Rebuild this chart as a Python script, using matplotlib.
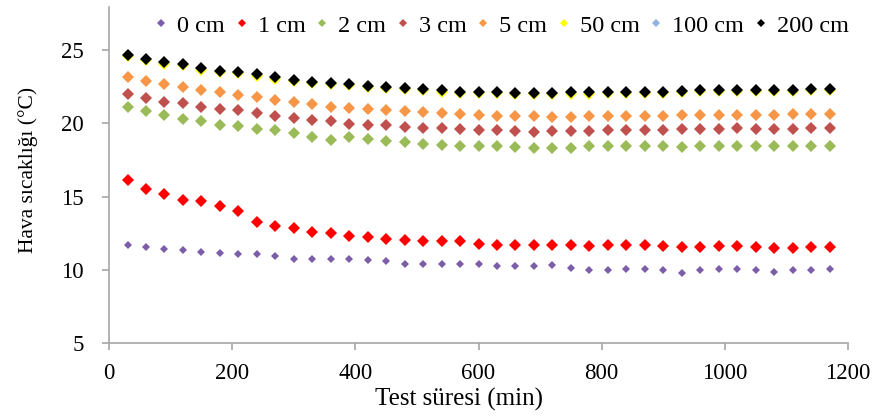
import matplotlib.pyplot as plt
from matplotlib.lines import Line2D

# Test time (min)
times = list(range(30, 1200, 30))

depths = ['0 cm', '1 cm', '2 cm', '3 cm', '5 cm', '50 cm', '100 cm', '200 cm']

t_0cm = [11.73, 11.58, 11.44, 11.35, 11.24, 11.17, 11.10, 11.10, 10.94, 10.78,
         10.78, 10.78, 10.78, 10.67, 10.60, 10.44, 10.44, 10.44, 10.44, 10.44,
         10.31, 10.31, 10.31, 10.37, 10.15, 9.99, 9.99, 10.08, 10.08, 9.99,
         9.81, 9.99, 10.08, 10.08, 9.99, 9.85, 9.99, 9.99, 10.08]
t_1cm = [16.15, 15.55, 15.15, 14.80, 14.70, 14.35, 14.05, 13.25, 13.00, 12.85,
         12.60, 12.50, 12.30, 12.25, 12.15, 12.05, 11.95, 11.95, 11.95, 11.80,
         11.73, 11.73, 11.73, 11.73, 11.73, 11.67, 11.73, 11.73, 11.73, 11.67,
         11.58, 11.58, 11.67, 11.67, 11.58, 11.50, 11.50, 11.58, 11.58]
t_2cm = [21.14, 20.85, 20.58, 20.31, 20.17, 19.90, 19.78, 19.60, 19.56, 19.33,
         19.06, 18.88, 19.06, 18.95, 18.81, 18.69, 18.60, 18.54, 18.47, 18.47,
         18.42, 18.38, 18.31, 18.31, 18.31, 18.42, 18.42, 18.42, 18.47, 18.42,
         18.38, 18.47, 18.47, 18.47, 18.47, 18.47, 18.47, 18.47, 18.47]
t_3cm = [22.01, 21.71, 21.48, 21.37, 21.14, 20.97, 20.87, 20.73, 20.51, 20.35,
         20.24, 20.17, 19.97, 19.88, 19.85, 19.74, 19.67, 19.67, 19.60, 19.56,
         19.51, 19.44, 19.37, 19.44, 19.44, 19.44, 19.51, 19.51, 19.51, 19.51,
         19.60, 19.60, 19.60, 19.67, 19.60, 19.60, 19.60, 19.67, 19.67]
t_5cm = [23.18, 22.89, 22.69, 22.44, 22.23, 22.12, 21.94, 21.82, 21.60, 21.48,
         21.31, 21.14, 21.07, 20.99, 20.87, 20.80, 20.76, 20.69, 20.65, 20.58,
         20.51, 20.51, 20.47, 20.42, 20.42, 20.47, 20.51, 20.51, 20.51, 20.51,
         20.58, 20.58, 20.58, 20.58, 20.58, 20.58, 20.62, 20.65, 20.65]
t_50cm = [24.58, 24.32, 24.06, 23.95, 23.65, 23.52, 23.40, 23.22, 23.04, 22.88,
          22.76, 22.65, 22.58, 22.47, 22.38, 22.31, 22.24, 22.15, 22.08, 22.04,
          22.04, 21.97, 21.97, 21.97, 22.02, 22.02, 22.08, 22.08, 22.08, 22.08,
          22.13, 22.20, 22.20, 22.20, 22.20, 22.20, 22.20, 22.24, 22.24]
t_100cm = [24.66, 24.39, 24.16, 24.05, 23.73, 23.59, 23.48, 23.32, 23.12, 22.96,
           22.84, 22.73, 22.67, 22.55, 22.46, 22.39, 22.32, 22.23, 22.16, 22.12,
           22.12, 22.05, 22.05, 22.05, 22.10, 22.10, 22.16, 22.16, 22.16, 22.16,
           22.21, 22.28, 22.28, 22.28, 22.28, 22.28, 22.28, 22.32, 22.32]
t_200cm = [24.66, 24.39, 24.16, 24.05, 23.73, 23.59, 23.48, 23.32, 23.12, 22.96,
           22.84, 22.73, 22.67, 22.55, 22.46, 22.39, 22.32, 22.23, 22.16, 22.12,
           22.12, 22.05, 22.05, 22.05, 22.10, 22.10, 22.16, 22.16, 22.16, 22.16,
           22.21, 22.28, 22.28, 22.28, 22.28, 22.28, 22.28, 22.32, 22.32]

series = [t_0cm, t_1cm, t_2cm, t_3cm, t_5cm, t_50cm, t_100cm, t_200cm]
colors = ['#7B5EA7', '#FF0000', '#9BBB59', '#C0504D', '#F79646',
          '#FFFF00', '#8EB4E3', '#000000']
sizes = [3.8, 6.2, 5.9, 5.9, 5.9, 5.8, 5.6, 6.1]

plt.rcParams['font.family'] = ['Liberation Serif', 'DejaVu Serif']

fig = plt.figure(figsize=(8.75, 4.16), dpi=100)
ax = fig.add_axes([0.1246, 0.1743, 0.8446, 0.809])

for label, vals, c, ms in zip(depths, series, colors, sizes):
    ax.plot(times, vals, linestyle='none', marker='D', markersize=ms,
            color=c, markeredgewidth=0, label=label)

ax.set_xlim(0, 1200)
ax.set_ylim(5, 27.92)
ax.set_xticks(range(0, 1201, 200))
ax.set_yticks([5, 10, 15, 20, 25])

for side in ['top', 'right']:
    ax.spines[side].set_visible(False)
for side in ['left', 'bottom']:
    ax.spines[side].set_color('#A6A6A6')
    ax.spines[side].set_linewidth(1.2)
ax.tick_params(colors='#A6A6A6', labelcolor='black', labelsize=16.5,
               length=5, width=1.2, direction='out')
ax.tick_params(axis='x', pad=9)
ax.tick_params(axis='y', pad=13)

ax.set_xlabel('Test süresi (min)', fontsize=18, va='center')
ax.xaxis.set_label_coords(0.473, -0.165)
ax.set_ylabel('Hava sıcaklığı (°C)', fontsize=15.5, va='center')
ax.yaxis.set_label_coords(-0.11, 0.516)

# legend with equal-sized diamonds
handles = [Line2D([], [], linestyle='none', marker='D', markersize=3.6,
                  markeredgewidth=0, color=c) for c in colors]
ax.legend(handles, depths, loc='center', bbox_to_anchor=(0.573, 0.938),
          bbox_transform=fig.transFigure, ncol=8, frameon=False,
          fontsize=17.5, handlelength=0.6, handletextpad=0.37,
          columnspacing=0.37, borderpad=0, borderaxespad=0)

fig.savefig('out.png', dpi=100)
